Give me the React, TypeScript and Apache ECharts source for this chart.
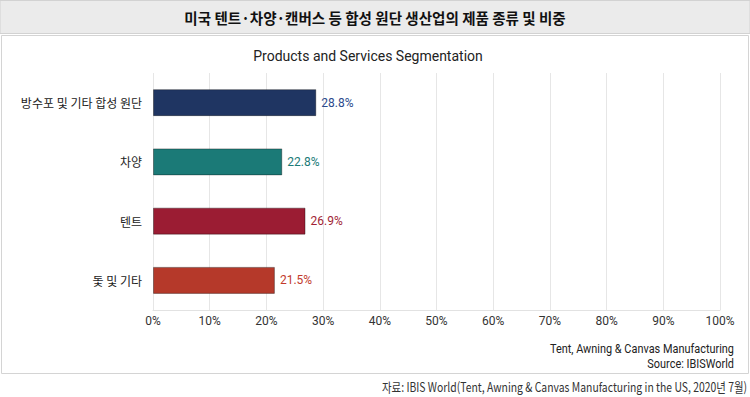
import React, { useEffect, useRef } from "react";
import * as echarts from "echarts";

const categories = ["방수포 및 기타 합성 원단", "차양", "텐트", "돛 및 기타"];
const values = [28.8, 22.8, 26.9, 21.5];
const barColors = ["#1f3562", "#1b7a77", "#9b1c33", "#b5392a"];
const labelColors = ["#2b4a8c", "#1b7a77", "#a11f36", "#c23a2b"];
const titleText = "미국 텐트·차양·캔버스 등 합성 원단 생산업의 제품 종류 및 비중";
const subtitleText = "Products and Services Segmentation";
const noteLines = ["Tent, Awning & Canvas Manufacturing", "Source: IBISWorld"];
const sourceText = "자료: IBIS World(Tent, Awning & Canvas Manufacturing in the US, 2020년 7월)";

const FONT = "'Noto Sans CJK KR', 'Noto Sans', sans-serif";

export default function App() {
  const ref = useRef<HTMLDivElement>(null);
  useEffect(() => {
    if (!ref.current) return;
    const chart = echarts.init(ref.current, undefined, { renderer: "svg" });
    chart.setOption({
      animation: false,
      backgroundColor: "#ffffff",
      textStyle: { fontFamily: FONT },
      graphic: [
        {
          type: "rect",
          z: -10,
          shape: { x: 0, y: 0.5, width: 750, height: 33 },
          style: { fill: "#ebebeb", stroke: "#d2d2d2", lineWidth: 1 },
        },
        {
          type: "rect",
          z: -10,
          shape: { x: 1.5, y: 35.5, width: 747, height: 338 },
          style: { fill: "#ffffff", stroke: "#d4d4d4", lineWidth: 1 },
        },
        {
          type: "text",
          x: 375,
          y: 17,
          scaleX: 0.97,
          style: {
            text: titleText,
            fill: "#111",
            font: `bold 15px ${FONT}`,
            align: "center",
            verticalAlign: "middle",
          },
        },
        {
          type: "text",
          x: 368,
          y: 56,
          style: {
            text: subtitleText,
            fill: "#222",
            font: `14px Roboto, sans-serif`,
            align: "center",
            verticalAlign: "middle",
          },
        },
        {
          type: "text",
          x: 734,
          y: 349,
          scaleX: 0.91,
          style: {
            text: noteLines[0],
            fill: "#222",
            font: `12px Roboto, sans-serif`,
            align: "right",
            verticalAlign: "middle",
          },
        },
        {
          type: "text",
          x: 734,
          y: 364,
          scaleX: 0.91,
          style: {
            text: noteLines[1],
            fill: "#222",
            font: `12px Roboto, sans-serif`,
            align: "right",
            verticalAlign: "middle",
          },
        },
        {
          type: "text",
          x: 747,
          y: 386,
          scaleX: 0.8,
          style: {
            text: sourceText,
            fill: "#333",
            font: `13px ${FONT}`,
            align: "right",
            verticalAlign: "middle",
          },
        },
      ],
      grid: { left: 153, right: 30, top: 73, bottom: 87, containLabel: false },
      xAxis: {
        type: "value",
        min: 0,
        max: 100,
        interval: 10,
        axisLine: { show: true, lineStyle: { color: "#e2e2e2" } },
        axisTick: { show: false },
        splitLine: { show: true, lineStyle: { color: "#e6e6e6", width: 1 } },
        axisLabel: {
          formatter: "{value}%",
          color: "#333",
          fontSize: 12,
          margin: 5,
          fontFamily: "Roboto, sans-serif",
        },
      },
      yAxis: {
        type: "category",
        data: categories,
        inverse: true,
        axisLine: { show: false },
        axisTick: { show: false },
        axisLabel: { color: "#222", fontSize: 12, margin: 11, fontFamily: FONT },
      },
      series: [
        {
          type: "bar",
          barWidth: 27,
          data: values.map((v, i) => ({
            value: v,
            itemStyle: {
              color: barColors[i],
              borderColor: "rgba(0,0,0,0.35)",
              borderWidth: 1,
            },
            label: { color: labelColors[i] },
          })),
          label: {
            show: true,
            position: "right",
            distance: 5,
            fontSize: 12,
            fontFamily: "Roboto, sans-serif",
            formatter: (p: any) => `${p.value.toFixed(1)}%`,
          },
        },
      ],
    });
    return () => chart.dispose();
  }, []);
  return (
    <div
      ref={ref}
      style={{ position: "absolute", left: 0, top: 0, width: 750, height: 397 }}
    />
  );
}
